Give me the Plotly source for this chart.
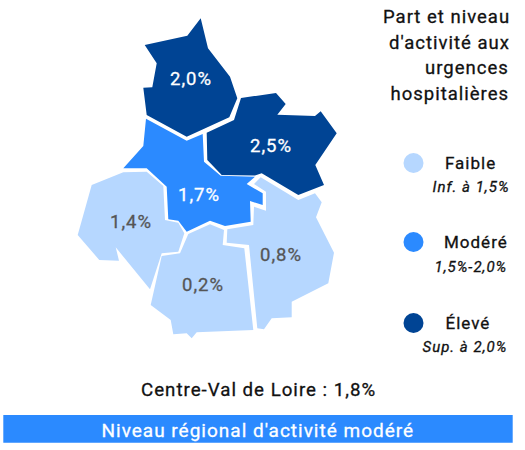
import plotly.graph_objects as go

LIGHT = "#B6D7FF"
MID = "#2B8AFF"
DARK = "#004494"
FONT = "Roboto"

area_names = ["Eure-et-Loir", "Loiret", "Loir-et-Cher", "Indre-et-Loire", "Indre", "Cher"]
area_values = ["2,0%", "2,5%", "1,7%", "1,4%", "0,2%", "0,8%"]
area_colors = [DARK, DARK, MID, LIGHT, LIGHT, LIGHT]
label_colors = ["white", "white", "white", "#555555", "#555555", "#555555"]
label_x = [190.5, 271, 199, 130.5, 203, 280.5]
label_y = [78.5, 146, 194.5, 222, 285, 255]

outline_x = [
    [200.7, 208, 230, 237.3, 229.3, 186.7, 146.7, 143.3, 152.3, 156.7, 144.7, 187.3],
    [241, 276, 285.7, 277.3, 315, 320.7, 336.7, 315.3, 324, 298.3, 261.7, 255, 221.7, 207.3, 206.7, 234],
    [146, 186.7, 202.7, 204, 220.7, 255, 246.7, 262.7, 262.7, 250, 250.7, 225, 210, 186.7, 178.3, 168.3, 166.7, 146.7, 123.3, 143.3],
    [91.7, 123.3, 146.7, 163.3, 165, 178.3, 184.3, 178.3, 161.7, 150, 115.7, 119, 99.3, 77.7],
    [188.3, 210, 224, 222.7, 244.3, 253.3, 196.7, 191.7, 186.7, 173.3, 170.7, 150.7, 161.7, 180],
    [227.3, 253.3, 254, 266, 266, 254, 260.7, 298.3, 315, 321.7, 316, 334, 328.3, 291.7, 291.7, 271.7, 264, 257.3, 249, 226.7],
]
outline_y = [
    [18.3, 48.3, 76.7, 98.3, 117.3, 136.7, 115, 87.7, 87.3, 63.3, 45, 35.7],
    [98, 93, 104, 114.7, 116, 111.3, 133.3, 165, 185, 195, 173.3, 175.5, 175, 160, 132.7, 120],
    [118.7, 140.7, 134, 161.7, 175.7, 176.7, 184, 193.3, 205, 201, 221.7, 226, 220.7, 231.7, 220.7, 219.3, 186.7, 168.3, 168.3, 146],
    [185, 172.3, 171.7, 186, 220, 222.7, 233.3, 251.7, 253.3, 289.3, 247.3, 260.7, 260, 235],
    [234, 224.3, 230, 245, 248.3, 330, 332.3, 338.3, 333.3, 334.3, 320, 305, 256, 253.3],
    [229.3, 225, 206.7, 210.7, 191.7, 184, 177.3, 200, 193.3, 202.3, 217.3, 252.7, 283.3, 301.7, 317.3, 318.3, 329.3, 328.3, 245, 242.7],
]

title_lines = ["Part et niveau", "d'activité aux", "urgences", "hospitalières"]
title_x = [446, 449, 467, 450]
title_y = [17, 43, 68, 94]

legend_names = ["Faible", "Modéré", "Élevé"]
legend_ranges = ["Inf. à 1,5%", "1,5%-2,0%", "Sup. à 2,0%"]
legend_colors = [LIGHT, MID, DARK]
legend_x = [470, 476, 467.5]
legend_y = [163, 242, 323]
legend_range_x = [470.5, 471, 465]
legend_range_y = [187, 267, 347]

region_text = "Centre-Val de Loire : 1,8%"
banner_text = "Niveau régional d'activité modéré"

fig = go.Figure()
for name, xs, ys, color in zip(area_names, outline_x, outline_y, area_colors):
    fig.add_trace(go.Scatter(x=xs, y=ys, name=name, mode="lines", fill="toself",
                             fillcolor=color, line=dict(width=0, color=color),
                             hoverinfo="name", showlegend=False))
fig.add_trace(go.Scatter(x=[413.5] * 3, y=legend_y, mode="markers", showlegend=False, hoverinfo="skip",
                         marker=dict(size=20, color=legend_colors, line=dict(width=0))))

def note(x, y, text, size, color="#111111", italic=False):
    fig.add_annotation(x=x, y=y, text=text, showarrow=False, xanchor="center", yanchor="middle",
                       xref="x", yref="y",
                       font=dict(family=FONT, size=size, color=color,
                                 style="italic" if italic else "normal"))

for text, x, y, color in zip(area_values, label_x, label_y, label_colors):
    note(x, y, text, 18.5, color)
for text, x, y in zip(title_lines, title_x, title_y):
    note(x, y, text, 18.5)
for name, rng, x, y, rx, ry in zip(legend_names, legend_ranges, legend_x, legend_y, legend_range_x, legend_range_y):
    note(x, y, name, 17)
    note(rx, ry, rng, 15, italic=True)
note(258.5, 390, region_text, 18.7)
fig.add_shape(type="rect", x0=3.3, x1=512.7, y0=415, y1=442.7, fillcolor=MID, line=dict(width=0), layer="below")
note(258, 430, banner_text, 19, "white")

fig.update_layout(
    width=525, height=450, margin=dict(l=0, r=0, t=0, b=0),
    paper_bgcolor="white", plot_bgcolor="white",
    xaxis=dict(range=[0, 525], visible=False, fixedrange=True),
    yaxis=dict(range=[450, 0], visible=False, fixedrange=True),
)
post = """
document.body.style.margin = '0';
document.body.style.overflow = 'hidden';
document.querySelectorAll('.annotation-text').forEach(function (t) {
    t.style.letterSpacing = '1px';
    t.style.stroke = t.style.fill;
    t.style.strokeWidth = '0.3px';
});
"""
fig.write_html("out.html", config={"displayModeBar": False}, post_script=post)
